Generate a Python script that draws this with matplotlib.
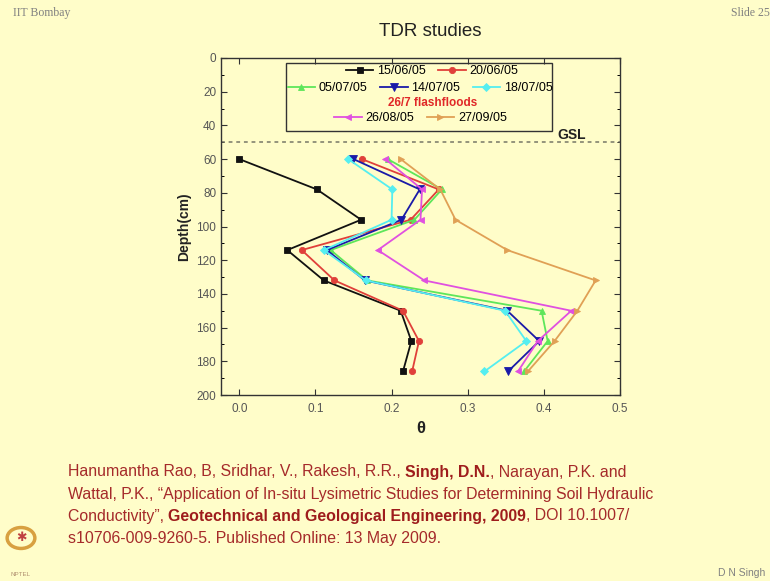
import matplotlib
matplotlib.use("Agg")
import matplotlib.pyplot as plt
from matplotlib.patches import Rectangle, Circle
from matplotlib.legend import Legend
import numpy as np

plt.rcParams['font.family'] = ['Liberation Sans', 'DejaVu Sans']

# depth of the TDR probes (cm)
depth = [60, 78, 96, 114, 132, 150, 168, 186]

# volumetric water content, one list per survey date
d150605 = [0.000, 0.102, 0.160, 0.063, 0.111, 0.212, 0.226, 0.215]
d200605 = [0.161, 0.262, 0.225, 0.082, 0.125, 0.215, 0.236, 0.227]
d050705 = [0.195, 0.266, 0.230, 0.120, 0.168, 0.397, 0.405, 0.374]
d140705 = [0.150, 0.237, 0.213, 0.115, 0.165, 0.352, 0.394, 0.353]
d180705 = [0.143, 0.201, 0.200, 0.111, 0.166, 0.349, 0.377, 0.322]
d260805 = [0.192, 0.240, 0.238, 0.182, 0.243, 0.436, 0.392, 0.366]
d270905 = [0.212, 0.264, 0.284, 0.352, 0.468, 0.444, 0.414, 0.379]

labels = ["15/06/05", "20/06/05", "05/07/05", "14/07/05", "18/07/05",
          "26/08/05", "27/09/05"]
series = [d150605, d200605, d050705, d140705, d180705, d260805, d270905]
colors = ["#111111", "#e0403a", "#5ee65a", "#1a1aa8", "#55eef0", "#e050e0", "#e0a055"]
markers = ["s", "o", "^", "v", "D", "<", ">"]
msizes = [5, 4.5, 5, 5.5, 4.5, 5, 5]

gsl = 50
bg = "#fffdc9"

fig = plt.figure(figsize=(7.7, 5.81), dpi=100, facecolor=bg)
ax = fig.add_axes([221/770, 1-395/581, 399/770, 337/581], facecolor=bg)

handles = []
for y, lab, c, m, ms in zip(series, labels, colors, markers, msizes):
    h, = ax.plot(y, depth, color=c, marker=m, ms=ms, lw=1.3, label=lab,
                 markeredgewidth=0.6)
    handles.append(h)

ax.axhline(gsl, color="#777766", ls=(0, (2.5, 2.5)), lw=1.1)
ax.text(0.437, gsl - 4.5, "GSL", ha="center", va="center", fontsize=10,
        fontweight="bold", color="#222222")

ax.set_xlim(-0.024, 0.5)
ax.set_ylim(200, 0)
ax.set_xticks(np.arange(0, 0.51, 0.1))
ax.set_xticklabels(["0.0", "0.1", "0.2", "0.3", "0.4", "0.5"])
ax.set_yticks(np.arange(0, 201, 20))
ax.set_yticks(np.arange(10, 200, 20), minor=True)
ax.tick_params(direction="in", top=True, right=True, labelsize=8.5,
               colors="#333333", length=4, width=0.8)
ax.tick_params(which="minor", direction="in", right=True, length=2.5, width=0.7)
for tl in ax.get_xticklabels() + ax.get_yticklabels():
    tl.set_color("#555555")
ax.tick_params(axis="x", pad=6)
for s in ax.spines.values():
    s.set_color("#333333")
    s.set_linewidth(1.0)

ax.set_ylabel("Depth(cm)", fontsize=10, fontweight="bold", color="#222222", labelpad=4)
ax.set_xlabel("\u03b8", fontsize=12, fontweight="bold", color="#222222", labelpad=4)

# custom legend with irregular rows
ax.add_patch(Rectangle((0.163, 0.783), 0.667, 0.202, transform=ax.transAxes,
                       fill=False, edgecolor="#333333", lw=1.0, zorder=5))
rows = [([0, 1], 0.529, 0.961), ([2, 3, 4], 0.499, 0.911), ([5, 6], 0.50, 0.822)]
for idx, xc, yc in rows:
    lg = Legend(ax, [handles[i] for i in idx], [labels[i] for i in idx],
                ncol=len(idx), loc="center", bbox_to_anchor=(xc, yc),
                frameon=False, fontsize=9, handlelength=2.2,
                handletextpad=0.3, columnspacing=1.0, borderpad=0,
                borderaxespad=0)
    ax.add_artist(lg)
ax.text(0.53, 0.866, "26/7 flashfloods", transform=ax.transAxes, ha="center",
        va="center", color="#e02828", fontsize=8.5, fontweight="bold")

# slide decoration
fig.text(430/770, 1-32/581, "TDR studies", ha="center", va="center",
         fontsize=13.5, color="#222222")
fig.text(13/770, 1-13/581, "IIT Bombay", ha="left", va="center", fontsize=8.5,
         color="#808080", family=["Liberation Serif", "DejaVu Serif"])
fig.text(770/770, 1-13/581, "Slide 25", ha="right", va="center", fontsize=8.5,
         color="#808080", family=["Liberation Serif", "DejaVu Serif"])
fig.text(765/770, 1-573/581, "D N Singh", ha="right", va="center", fontsize=7.5,
         color="#808080")

# NPTEL logo (rough)
fig.patches.append(Circle((21/770, 1-538/581), 0.018, transform=fig.transFigure,
                          fill=False, edgecolor="#d8a040", lw=2.5))
fig.text(21/770, 1-538/581, "\u2731", ha="center", va="center", fontsize=9,
         color="#c04040")
fig.text(21/770, 1-575/581, "NPTEL", ha="center", va="center", fontsize=4.5,
         color="#b09070")

# reference, with bold runs
cite = [
    [("Hanumantha Rao, B, Sridhar, V., Rakesh, R.R., ", False), ("Singh, D.N.", True),
     (", Narayan, P.K. and", False)],
    [("Wattal, P.K., \u201cApplication of In-situ Lysimetric Studies for Determining Soil Hydraulic", False)],
    [("Conductivity\u201d, ", False), ("Geotechnical and Geological Engineering, 2009", True),
     (", DOI 10.1007/", False)],
    [("s10706-009-9260-5. Published Online: 13 May 2009.", False)],
]
renderer = fig.canvas.get_renderer()
y0 = 472
for line in cite:
    xp = 68
    for txt, bold in line:
        t = fig.text(xp/770, 1-y0/581, txt, ha="left", va="center", fontsize=11.4,
                     color="#a52a2a" if not bold else "#9e1c1c",
                     fontweight="bold" if bold else "normal")
        bb = t.get_window_extent(renderer)
        xp += bb.width
    y0 += 22

fig.savefig("out.png", dpi=100, facecolor=bg)
